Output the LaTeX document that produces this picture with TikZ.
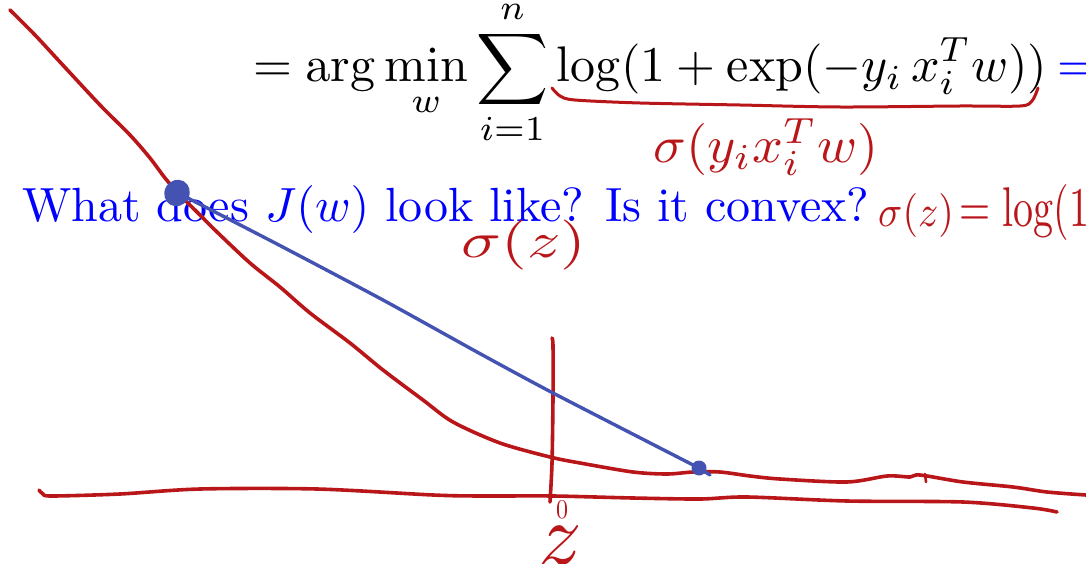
\documentclass[tikz,border=0pt]{standalone}
\usepackage{amsmath}
\definecolor{inkred}{RGB}{185,22,26}
\definecolor{inkblue}{RGB}{68,82,178}
\begin{document}
\begin{tikzpicture}[x=1pt,y=-1pt,
  redink/.style={draw=inkred,line width=3.6pt,line cap=round,line join=round},
  blueink/.style={draw=inkblue,line width=3.4pt,line cap=round,line join=round},
  anno/.style={text=inkred,inner sep=0pt},
  slide/.style={inner sep=0pt}]
\useasboundingbox (0,0) rectangle (1086,564);
\clip (0,0) rectangle (1086,564);
% typeset slide content
\node[slide,anchor=base west] (eq) at (253,82)
  {\scalebox{5}{$\displaystyle =\arg\min_w \sum_{i=1}^n \log(1+\exp(-y_i\,x_i^T w))$}};
\node[slide,anchor=base west,text=blue] (eq2) at (1057,82) {\scalebox{5}{$=$}};
\node[slide,anchor=base west,text=blue] (q) at (22,222)
  {\scalebox{4.8}{What does $J(w)$ look like? Is it convex?}};
% red curve
\draw[redink] plot[smooth,tension=0.5] coordinates {(10,10) (35,35) (60,62) (100,105) (130,135) (150,158) (165,178) (180,195) (200,215) (217,232) (250,263) (280,287) (310,313) (350,343) (383,370) (423,400) (453,422) (500,443) (550,457) (580,463) (633,472) (667,474) (693,472) (720,472) (750,476) (780,479) (847,482) (887,476) (910,477) (920,475) (963,482) (1013,487) (1047,492) (1086,495)};
\draw[redink,line width=2.6pt] (925,474) -- (926,482);
% axes
\draw[redink] plot[smooth,tension=0.5] coordinates {(39,490) (43,494) (52,496) (120,494) (200,489) (317,489) (433,495) (480,496) (553,496) (633,498) (700,499) (747,497) (847,501) (963,502) (1033,508) (1057,512)};
\draw[redink] plot[smooth,tension=0.5] coordinates {(552,338) (553,346) (553,397) (552,463) (550,502)};
% blue chord
\draw[blueink] plot[smooth,tension=0.4] coordinates {(178,193) (277,244) (383,300) (477,352) (553,393) (697,467)};
\fill[inkblue,rotate around={-30:(177,193)}] (177,193) ellipse [x radius=12.5pt,y radius=13.5pt];
\fill[inkblue] (699,468) circle [radius=7.5pt];
\draw[blueink] (699,468) -- (710,475);
% brace under the summand
\draw[redink,line width=3pt] plot[smooth,tension=0.5] coordinates {(552,88) (560,96) (575,100) (640,103) (740,105) (840,107) (960,106) (1020,106) (1032,101) (1038,88)};
% handwritten annotations
\node[anno] (s1) at (766,147) {\scalebox{5.4}[5.2]{$\sigma(y_i x_i^T w)$}};
\node[anno] (s2) at (524,245) {\scalebox{6.6}[5]{$\sigma(z)$}};
\node[anno,anchor=base west] (s3) at (878,226) {\scalebox{4}[4.4]{$\sigma(z)$}\hspace{6pt}\scalebox{4}[5.6]{$=\log(1$}};
\node[anno] (zero) at (562,510) {\scalebox{2.4}[2.7]{$0$}};
\node[anno] (zl) at (560,546) {\scalebox{8.6}[8.8]{$z$}};
\end{tikzpicture}
\end{document}
